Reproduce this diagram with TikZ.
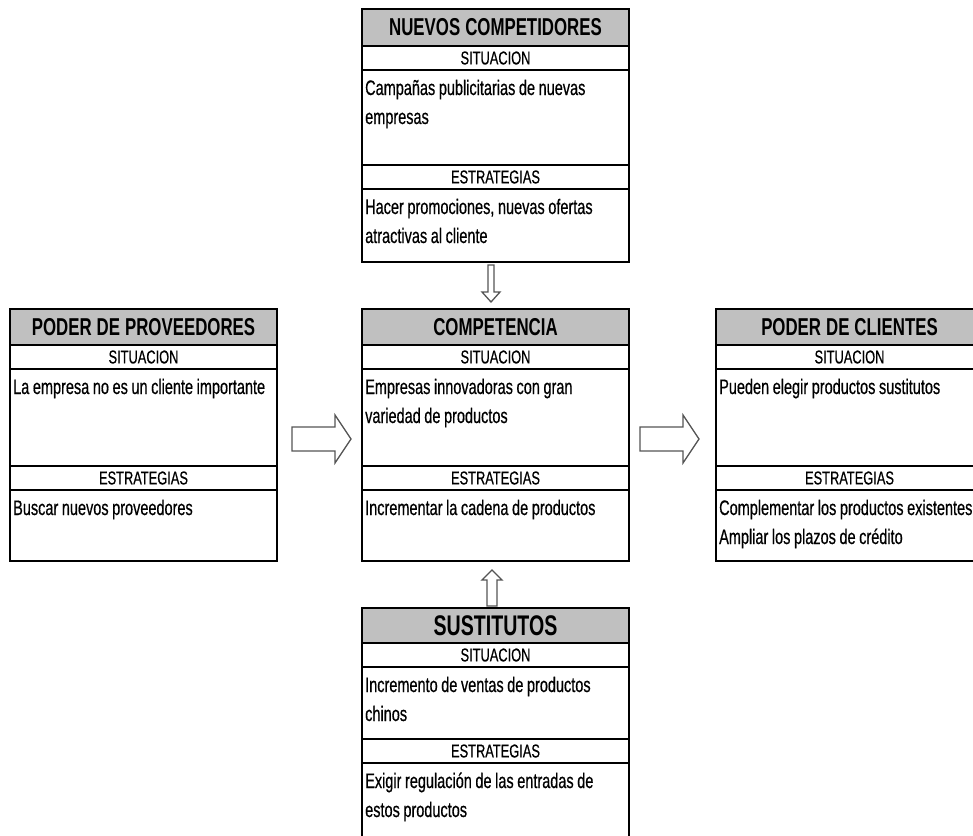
\documentclass[tikz,border=0pt]{standalone}
\usepackage{fontspec}
\setmainfont{Liberation Sans}[FakeStretch=0.69, UprightFeatures={FakeBold=0.5}]
\usetikzlibrary{calc}
\definecolor{hdrgray}{RGB}{192,192,192}
\definecolor{arrowgray}{RGB}{85,85,85}
\newcommand{\setwordgap}[1]{\spaceskip=#1\relax}
\tikzset{
  panelbox/.style={draw=black, line width=2.2pt, minimum width=267pt, inner sep=0pt, outer sep=0pt, anchor=north},
  hdr/.style={panelbox, fill=hdrgray, font=\fontsize{24.4}{26}\selectfont\bfseries,
    execute at begin node={\setwordgap{5pt}}},
  lbl/.style={panelbox, fill=white, minimum height=24pt, font=\fontsize{18.6}{20}\selectfont},
  area/.style={panelbox, fill=white},
  body/.style={anchor=base west, inner sep=0pt, text width=400pt, align=left,
    font=\fontsize{21}{29}\selectfont, execute at begin node={\setwordgap{3.6pt}}},
  blockarrow/.style={draw=arrowgray, line width=1.3pt, fill=white, line join=miter},
}
% #1 name, #2 x centre, #3 y top, #4 title, #5 situation text, #6 strategy text,
% #7 header height, #8 situation height, #9 strategy height
\newcommand{\forcepanel}[9]{%
  \node[hdr, minimum height=#7pt] (#1-h) at (#2,#3) {#4};
  \node[lbl] (#1-sl) at (#1-h.south) {SITUACION};
  \node[area, minimum height=#8pt] (#1-sa) at (#1-sl.south) {};
  \node[lbl] (#1-el) at (#1-sa.south) {ESTRATEGIAS};
  \node[area, minimum height=#9pt] (#1-ea) at (#1-el.south) {};
  \node[body] (#1-st) at ($(#1-sa.north west)+(3pt,-25pt)$) {#5};
  \node[body] (#1-et) at ($(#1-ea.north west)+(3pt,-25pt)$) {#6};
}
\begin{document}
\begin{tikzpicture}[x=1pt,y=-1pt]
\useasboundingbox (0,0) rectangle (973,835);
\clip (0,0) rectangle (973,835);
\fill[white] (0,0) rectangle (973,835);

\forcepanel{nc}{495.5}{9}{NUEVOS COMPETIDORES}
  {Campañas publicitarias de nuevas\\empresas}
  {Hacer promociones, nuevas ofertas\\atractivas al cliente}{37}{95}{73}

\forcepanel{pp}{143.5}{309}{PODER DE PROVEEDORES}
  {La empresa no es un cliente importante}
  {Buscar nuevos proveedores}{36}{97}{71}

\forcepanel{cp}{495.5}{309}{COMPETENCIA}
  {Empresas innovadoras con gran\\variedad de productos}
  {Incrementar la cadena de productos}{36}{97}{71}

\forcepanel{pc}{849.5}{309}{PODER DE CLIENTES}
  {Pueden elegir productos sustitutos}
  {Complementar los productos existentes\\Ampliar los plazos de crédito}{36}{97}{71}

\forcepanel{su}{495.5}{608}{{\fontsize{28.4}{30}\selectfont SUSTITUTOS}}
  {Incremento de ventas de productos\\chinos}
  {Exigir regulación de las entradas de\\estos productos}{35}{72}{80}

% block arrows
\draw[blockarrow] (488,265) -- (494,265) -- (494,292) -- (500,292) -- (491,302)
  -- (482,292) -- (488,292) -- cycle;
\draw[blockarrow] (292,427) -- (335,427) -- (335,415) -- (351,439) -- (335,463)
  -- (335,451) -- (292,451) -- cycle;
\draw[blockarrow] (640,427) -- (683,427) -- (683,415) -- (699,439) -- (683,463)
  -- (683,451) -- (640,451) -- cycle;
\draw[blockarrow] (487,606) -- (497,606) -- (497,580) -- (502,580) -- (492,570)
  -- (482,580) -- (487,580) -- cycle;
\end{tikzpicture}
\end{document}
